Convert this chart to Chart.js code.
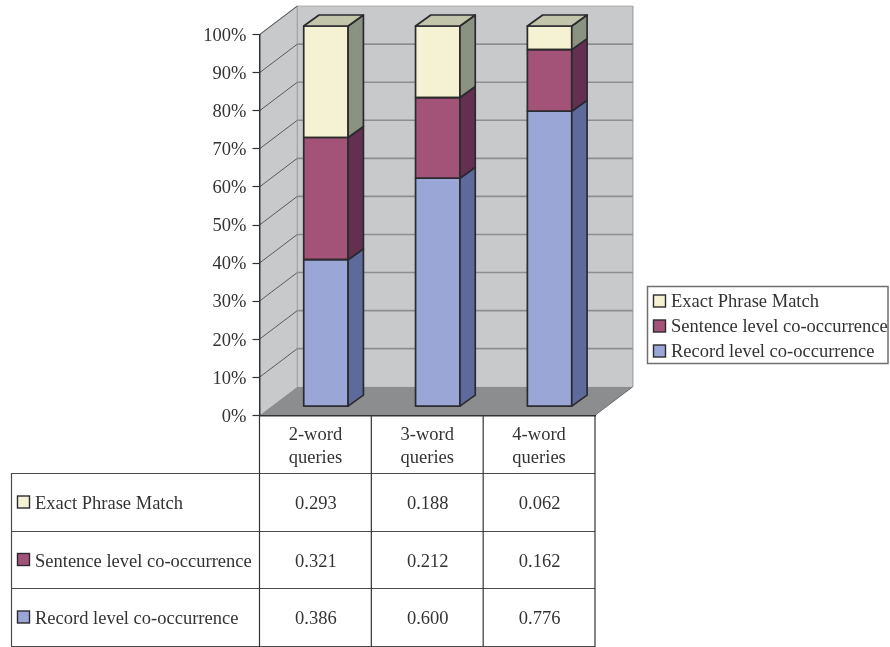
<!DOCTYPE html>
<html>
<head>
<meta charset="utf-8">
<title>Query match types</title>
<script src="https://cdn.jsdelivr.net/npm/chart.js@4/dist/chart.umd.min.js"></script>
<style>
  html, body { margin: 0; padding: 0; background: #ffffff; }
  canvas { display: block; }
</style>
</head>
<body>
<canvas id="chart" width="890" height="647"></canvas>
<script>
// Data
const categories = [['2-word', 'queries'], ['3-word', 'queries'], ['4-word', 'queries']];
const recordLevel = [0.386, 0.600, 0.776];
const sentenceLevel = [0.321, 0.212, 0.162];
const exactPhrase = [0.293, 0.188, 0.062];
const seriesNames = ['Exact Phrase Match', 'Sentence level co-occurrence', 'Record level co-occurrence'];
const tableRows = [exactPhrase, sentenceLevel, recordLevel];

// Colours: front, side
const CREAM = ['#f4f2d2', '#8b927f'];
const PLUM = ['#a35378', '#64304f'];
const BLUE = ['#9aa6d6', '#5d6b9b'];
const ROW_COLORS = [CREAM, PLUM, BLUE];
const TOP_FACE = '#c3c5aa';
const EDGE = '#2b2a30';
const INK = '#333333';
const FONT_SIZE = 18.5;
const FONT = FONT_SIZE + 'px "Liberation Serif"';

// Depth of the box, and of the bars inside it
const WALL_DX = 37.8, WALL_DY = -28.6;
const BAR_DX = 10.5, BAR_DY = -8.7;
const SIDE_DX = 15.3, SIDE_DY = -11;

function poly(ctx, pts, fill, stroke, lw) {
  ctx.beginPath();
  pts.forEach((p, i) => i ? ctx.lineTo(p[0], p[1]) : ctx.moveTo(p[0], p[1]));
  ctx.closePath();
  if (fill) { ctx.fillStyle = fill; ctx.fill(); }
  if (stroke) { ctx.strokeStyle = stroke; ctx.lineWidth = lw || 1; ctx.stroke(); }
}

function hline(ctx, x1, y1, x2, y2, color, lw) {
  ctx.beginPath();
  ctx.moveTo(x1, y1);
  ctx.lineTo(x2, y2);
  ctx.strokeStyle = color;
  ctx.lineWidth = lw;
  ctx.stroke();
}

function swatch(ctx, x, y, color) {
  ctx.fillStyle = color;
  ctx.fillRect(x, y, 12, 12);
  ctx.strokeStyle = EDGE;
  ctx.lineWidth = 1.4;
  ctx.strokeRect(x, y, 12, 12);
}

// Back wall, side wall and floor behind the bars
const boxPlugin = {
  id: 'box',
  beforeDraw(chart) {
    const { ctx, chartArea: a, scales: { y } } = chart;
    const backL = a.left + WALL_DX, backR = a.right + WALL_DX;
    const backB = a.bottom + WALL_DY, backT = a.top + WALL_DY;
    ctx.save();
    poly(ctx, [[a.left, a.top], [backL, backT], [backR, backT], [backR, backB], [backL, backB], [a.left, a.bottom]], '#c8c9cb');
    poly(ctx, [[a.left, a.bottom], [backL, backB], [backR, backB], [a.right, a.bottom]], '#8c8d8f');
    hline(ctx, a.left, a.top, backL, backT, '#a9abad', 1.2);
    hline(ctx, backL, backT, backR, backT, '#b4b5b7', 1.2);
    hline(ctx, backR, backT, backR, backB, '#a9abad', 1.5);
    hline(ctx, backL, backT, backL, backB, '#a0a2a4', 1.2);
    hline(ctx, a.right, a.bottom, backR, backB, '#6a6a6c', 1);
    y.ticks.forEach(t => {
      const py = y.getPixelForValue(t.value);
      if (t.value > 0) hline(ctx, a.left, py, backL, py + WALL_DY, '#5a5b5d', 1);
      if (t.value > 0 && t.value < 1) hline(ctx, backL, py + WALL_DY, backR, py + WALL_DY, '#8d8e90', 1.6);
    });
    ctx.restore();
  },
  beforeDatasetsDraw(chart) {
    chart.ctx.save();
    chart.ctx.translate(BAR_DX, BAR_DY);
  },
  // Outlines, side and top faces go on after the fronts, still in the shifted plane
  afterDatasetsDraw(chart) {
    const ctx = chart.ctx;
    ctx.lineJoin = 'round';
    chart.data.datasets.forEach((ds, i) => {
      chart.getDatasetMeta(i).data.forEach(bar => {
        const right = bar.x + bar.width / 2, left = bar.x - bar.width / 2;
        poly(ctx, [[left, bar.y], [right, bar.y], [right, bar.base], [left, bar.base]], null, EDGE, 1.7);
        poly(ctx, [[right, bar.y], [right + SIDE_DX, bar.y + SIDE_DY], [right + SIDE_DX, bar.base + SIDE_DY], [right, bar.base]],
          ds.sideColor, EDGE, 1.7);
        if (i === chart.data.datasets.length - 1) {
          poly(ctx, [[left, bar.y], [left + SIDE_DX, bar.y + SIDE_DY], [right + SIDE_DX, bar.y + SIDE_DY], [right, bar.y]],
            TOP_FACE, EDGE, 1.7);
        }
      });
    });
    ctx.restore();
  },
  // Data table under the chart and the legend box
  afterDraw(chart) {
    const { ctx, chartArea: a, scales: { x } } = chart;
    const rowYs = [473, 531, 588, 646];
    const cellW = (a.right - a.left) / categories.length;
    ctx.save();
    rowYs.forEach(yy => hline(ctx, 11, yy + 0.5, a.right, yy + 0.5, '#4a4a4c', 1.2));
    hline(ctx, 11.5, rowYs[0], 11.5, rowYs[3] + 1, '#4a4a4c', 1.2);
    categories.forEach((c, i) => {
      const vx = a.left + cellW * i;
      hline(ctx, vx, a.bottom, vx, rowYs[3] + 1, '#333333', 1.2);
    });
    hline(ctx, a.right, a.bottom, a.right, rowYs[3] + 1, '#333333', 1.2);

    ctx.font = FONT;
    ctx.textBaseline = 'middle';
    tableRows.forEach((row, r) => {
      const cy = (rowYs[r] + rowYs[r + 1]) / 2 + 1.5;
      swatch(ctx, 17.5, cy - 7.5, ROW_COLORS[r][0]);
      ctx.fillStyle = INK;
      ctx.textAlign = 'left';
      ctx.fillText(seriesNames[r], 35, cy + 1);
      ctx.textAlign = 'center';
      row.forEach((v, i) => ctx.fillText(v.toFixed(3), x.getPixelForValue(i) + 0.5, cy + 1));
    });

    ctx.strokeStyle = '#6f6f6f';
    ctx.lineWidth = 1.5;
    ctx.strokeRect(647.5, 286.5, 240.5, 77);
    ctx.textAlign = 'left';
    seriesNames.forEach((name, r) => {
      const cy = 302 + r * 25;
      swatch(ctx, 653.5, cy - 7, ROW_COLORS[r][0]);
      ctx.fillStyle = INK;
      ctx.fillText(name, 671, cy);
    });
    ctx.restore();
  }
};

new Chart(document.getElementById('chart'), {
  type: 'bar',
  data: {
    labels: categories,
    datasets: [
      { label: seriesNames[2], data: recordLevel, backgroundColor: BLUE[0], sideColor: BLUE[1] },
      { label: seriesNames[1], data: sentenceLevel, backgroundColor: PLUM[0], sideColor: PLUM[1] },
      { label: seriesNames[0], data: exactPhrase, backgroundColor: CREAM[0], sideColor: CREAM[1] }
    ].map(ds => ({
      ...ds,
      borderWidth: 0,
      clip: false,
      categoryPercentage: 1,
      barPercentage: 0.397
    }))
  },
  options: {
    responsive: false,
    animation: false,
    layout: { padding: { left: 180, top: 34.7, right: 295, bottom: 0 } },
    plugins: { legend: { display: false }, tooltip: { enabled: false } },
    scales: {
      x: {
        stacked: true,
        afterFit: scale => { scale.height = 231.7; },
        grid: { display: false },
        border: { color: '#333333', width: 1.5 },
        ticks: { color: INK, font: { family: 'Liberation Serif', size: FONT_SIZE, lineHeight: 1.24 }, padding: 0, maxRotation: 0 }
      },
      y: {
        stacked: true,
        min: 0,
        max: 1,
        afterFit: scale => { scale.width = 79.5; },
        grid: { drawOnChartArea: false, color: '#333333', tickLength: 7, tickWidth: 1.2 },
        border: { color: '#333333', width: 1.5 },
        ticks: {
          stepSize: 0.1,
          color: INK,
          font: { family: 'Liberation Serif', size: FONT_SIZE },
          padding: 6,
          labelOffset: 1.5,
          callback: v => Math.round(v * 100) + '%'
        }
      }
    }
  },
  plugins: [boxPlugin]
});
</script>
</body>
</html>
